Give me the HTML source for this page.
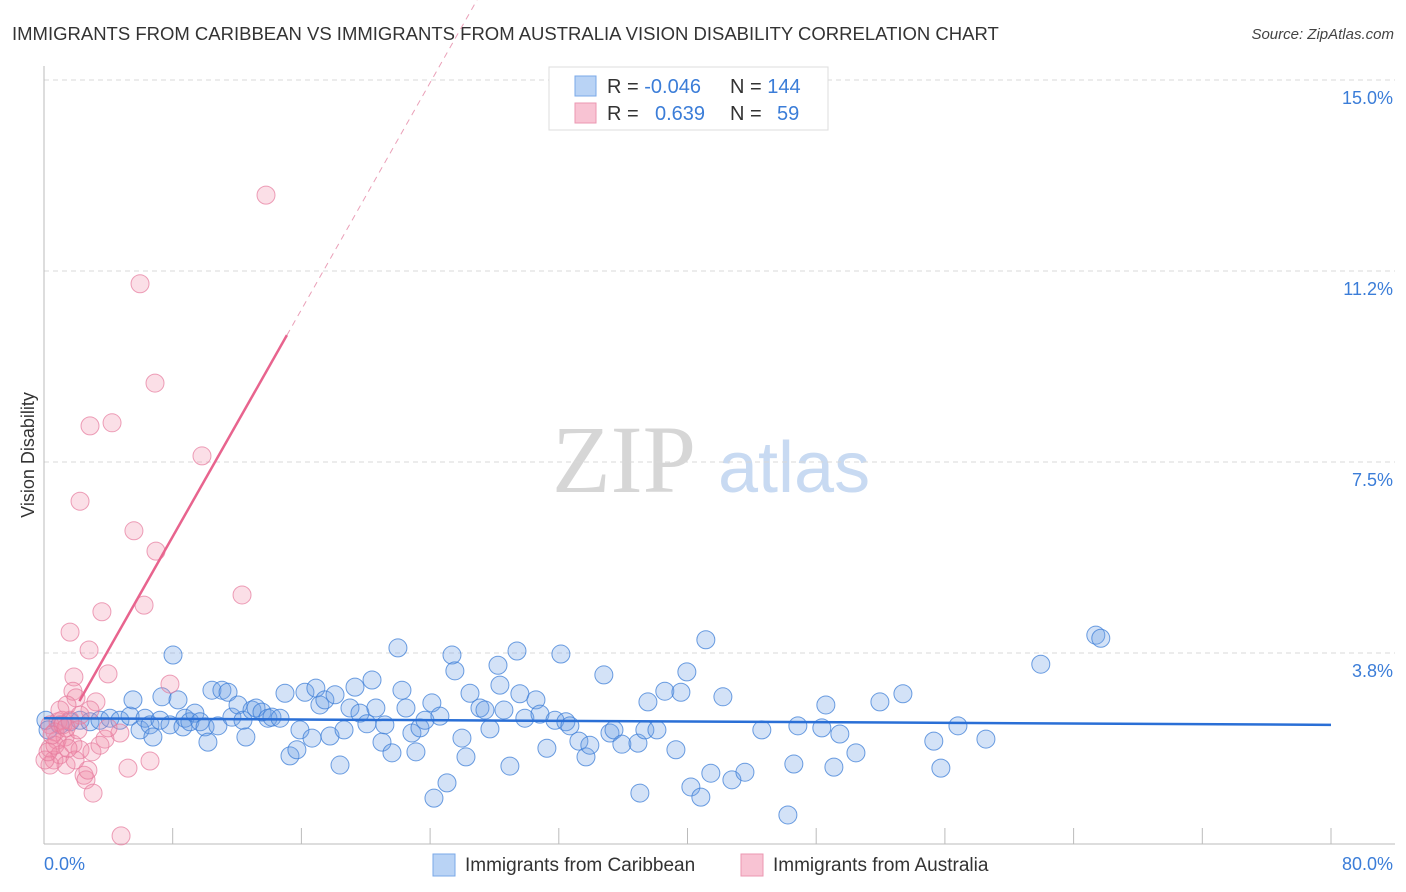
<!DOCTYPE html>
<html><head><meta charset="utf-8"><style>
body{margin:0;background:#fff;font-family:"Liberation Sans",sans-serif}
svg{display:block}
</style></head><body>
<svg id="chart" width="1406" height="892" xmlns="http://www.w3.org/2000/svg" font-family="Liberation Sans, sans-serif">
<text x="12" y="40" font-size="18.5" fill="#333">IMMIGRANTS FROM CARIBBEAN VS IMMIGRANTS FROM AUSTRALIA VISION DISABILITY CORRELATION CHART</text>
<text x="1394" y="39" font-size="15" fill="#444" font-style="italic" text-anchor="end">Source: ZipAtlas.com</text>
<g>
<text x="552" y="492" font-size="96" fill="#d6d6d6" font-family="Liberation Serif, serif">ZIP</text>
<text x="718" y="492" font-size="72" fill="#c8daf2">atlas</text>
</g>
<text transform="translate(34,455) rotate(-90)" font-size="18" fill="#333" text-anchor="middle">Vision Disability</text>
<g id="grid"></g><g id="axes"></g><g id="pts"></g><g id="trends"></g>
<g>
<rect x="549" y="67" width="279" height="63" fill="#fff" stroke="#ddd"/>
<rect x="575" y="76" width="21" height="20" fill="#b9d3f5" stroke="#7aa8e8"/>
<rect x="575" y="103" width="21" height="20" fill="#f8c3d3" stroke="#eb97b1"/>
<text x="607" y="93" font-size="20" fill="#333">R = <tspan fill="#3b7dd8">-0.046</tspan></text>
<text x="730" y="93" font-size="20" fill="#333">N = <tspan fill="#3b7dd8">144</tspan></text>
<text x="607" y="120" font-size="20" fill="#333">R = <tspan fill="#3b7dd8" x="655">0.639</tspan></text>
<text x="730" y="120" font-size="20" fill="#333">N = <tspan fill="#3b7dd8" x="777">59</tspan></text>
</g>
<g>
<rect x="433" y="854" width="22" height="22" fill="#b9d3f5" stroke="#7aa8e8"/>
<text x="465" y="871" font-size="19" fill="#333">Immigrants from Caribbean</text>
<rect x="741" y="854" width="22" height="22" fill="#f8c3d3" stroke="#eb97b1"/>
<text x="773" y="871" font-size="19" fill="#333">Immigrants from Australia</text>
</g>
</svg>
<script>
const blueX=[8.02,.12,.25,.99,1.62,2.24,2.86,3.48,4.10,4.72,5.35,5.53,5.97,6.28,6.59,6.77,7.21,7.33,7.83,8.33,8.64,8.76,9.07,9.38,9.70,10.01,10.19,10.44,10.81,11.06,11.44,11.68,12.06,12.37,12.55,12.93,13.18,13.55,13.92,14.17,14.67,14.98,15.29,15.72,15.91,16.22,16.66,16.90,17.15,17.46,17.78,18.09,18.40,18.65,19.02,19.33,19.64,20.07,20.39,20.63,21.01,21.19,21.63,22.00,22.25,22.50,22.87,23.12,23.37,23.68,24.11,24.24,24.61,25.05,25.36,25.54,25.98,26.23,26.48,27.10,27.41,27.72,28.22,28.34,28.59,28.96,29.40,29.58,29.89,30.58,30.83,31.26,31.76,32.13,32.44,32.69,33.25,33.69,33.93,34.80,35.18,35.43,35.92,36.92,37.04,37.35,37.54,38.10,38.59,39.28,39.59,39.96,40.21,40.83,41.14,41.45,42.20,42.76,43.57,44.62,46.24,46.61,46.86,48.35,48.60,49.10,49.47,50.47,51.96,53.39,55.31,55.75,56.81,58.55,61.96,65.38,65.69];
const blueY=[3.71,2.43,2.24,2.34,2.40,2.43,2.40,2.43,2.47,2.43,2.51,2.83,2.24,2.47,2.34,2.10,2.43,2.89,2.34,2.83,2.30,2.47,2.40,2.57,2.40,2.30,2.00,3.02,2.32,3.02,2.98,2.49,2.73,2.43,2.10,2.63,2.67,2.59,2.47,2.49,2.47,2.96,1.73,1.85,2.24,2.98,2.08,3.06,2.73,2.83,2.12,2.93,1.55,2.24,2.67,3.08,2.57,2.36,3.22,2.67,2.00,2.34,1.79,3.85,3.02,2.67,2.18,1.81,2.28,2.43,2.77,0.90,2.51,1.20,3.71,3.40,2.08,1.71,2.96,2.67,2.63,2.26,3.51,3.12,2.63,1.53,3.79,2.95,2.47,2.83,2.55,1.88,2.43,3.73,2.40,2.32,2.02,1.71,1.94,3.32,2.18,2.24,1.96,1.98,1.00,2.24,2.79,2.24,3.00,1.85,2.98,3.38,1.12,0.92,4.01,1.39,2.89,1.26,1.41,2.24,0.57,1.57,2.32,2.28,2.73,1.51,2.16,1.79,2.79,2.95,2.02,1.49,2.32,2.06,3.53,4.10,4.04];
const pinkX=[13.80,5.97,6.90,2.86,4.23,9.82,2.24,5.59,6.96,6.22,12.31,3.60,1.62,2.80,3.98,1.86,7.83,1.80,1.99,3.23,1.43,2.86,2.24,1.12,.87,.37,.68,1.31,.81,1.80,.37,.99,.62,1.37,2.24,2.98,3.79,4.72,3.98,5.22,6.59,2.49,2.61,3.05,4.79,.37,.06,.25,1.62,1.18,.68,2.73,1.93,3.48,.99,.50,1.49,2.11,1.37];
const pinkY=[12.74,11.00,9.05,8.21,8.27,7.62,6.73,6.15,5.75,4.69,4.89,4.56,4.16,3.81,3.34,3.28,3.14,3.00,2.87,2.79,2.73,2.63,2.53,2.43,2.40,2.34,2.20,2.10,2.04,1.96,1.88,1.75,1.65,1.55,1.85,1.81,2.06,2.18,2.28,1.49,1.63,1.35,1.26,1.00,0.16,1.55,1.65,1.81,2.43,2.34,1.94,1.45,1.65,1.94,2.63,2.14,1.88,2.24,2.28];
const blueTrend=[2.47,2.34];
const pinkTrend=[1.58,0.557];
const yTicks=[3.75,7.5,11.25,15];
const yTickLabels=["3.8%","7.5%","11.2%","15.0%"];
const xTicks=[0,8,16,24,32,40,48,56,64,72,80];
const NS="http://www.w3.org/2000/svg";
const sx=v=>44+v*(1331-44)/80;
const sy=v=>844-v*50.93;
function mk(tag,parent,attrs){const e=document.createElementNS(NS,tag);for(const k in attrs)e.setAttribute(k,attrs[k]);document.getElementById(parent).appendChild(e);return e;}
yTicks.forEach((t,i)=>{
 const l=mk('line','grid',{x1:44,x2:1395,y1:sy(t),y2:sy(t),stroke:'#d8d8d8','stroke-dasharray':'5,4'});
 
 
 const tx=mk('text','grid',{x:1393,y:sy(t)+24,'font-size':18,fill:'#3b7dd8','text-anchor':'end'});
 tx.textContent=yTickLabels[i];
 
 
});
const ya=mk('line','axes',{x1:44,x2:44,y1:66,y2:844,stroke:'#bbb'});


const xa=mk('line','axes',{x1:44,x2:1395,y1:844,y2:844,stroke:'#bbb'});


xTicks.forEach(t=>{
 const l=mk('line','axes',{x1:sx(t),x2:sx(t),y1:828,y2:844,stroke:'#bbb'});
 
 
});
const xl0=mk('text','axes',{x:44,y:870,'font-size':18,fill:'#3b7dd8'});xl0.textContent=xTicks[0].toFixed(1)+'%';


const xl1=mk('text','axes',{x:1393,y:870,'font-size':18,fill:'#3b7dd8','text-anchor':'end'});xl1.textContent=xTicks[xTicks.length-1].toFixed(1)+'%';


blueX.forEach((x,i)=>{
 const c=mk('circle','pts',{cx:sx(x),cy:sy(blueY[i]),r:9,fill:'rgba(110,160,230,0.3)',stroke:'rgba(60,125,215,0.75)','stroke-width':1});
 
 
});
pinkX.forEach((x,i)=>{
 const c=mk('circle','pts',{cx:sx(x),cy:sy(pinkY[i]),r:9,fill:'rgba(240,140,170,0.28)',stroke:'rgba(230,120,155,0.7)','stroke-width':1});
 
 
});
const bt=mk('line','trends',{x1:sx(0),x2:sx(80),y1:sy(blueTrend[0]),y2:sy(blueTrend[1]),stroke:'#2a6fd6','stroke-width':2.5});


const pf=x=>pinkTrend[0]+pinkTrend[1]*x;
const xEnd=(15.25-pinkTrend[0])/pinkTrend[1];
const pt=mk('line','trends',{x1:sx(2.2),x2:sx(15.1),y1:sy(pf(2.2)),y2:sy(pf(15.1)),stroke:'#e8648e','stroke-width':2.5});


const pd=mk('line','trends',{x1:sx(15.1),x2:sx(xEnd+2.4),y1:sy(pf(15.1)),y2:sy(pf(xEnd+2.4)),stroke:'#eaa0b8','stroke-width':1,'stroke-dasharray':'6,5'});


</script>
</body></html>
